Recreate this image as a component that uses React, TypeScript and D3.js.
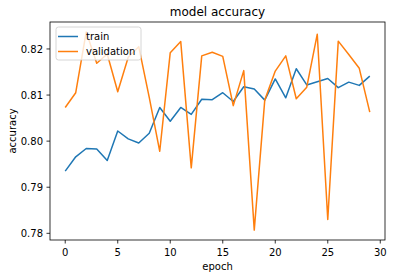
import React from "react";
import * as d3 from "d3";

const epochs = d3.range(30);
const trainAcc = [
  0.7935, 0.7966, 0.7984, 0.7983, 0.7958, 0.8022, 0.8005, 0.7996, 0.8017, 0.8073,
  0.8043, 0.8073, 0.8058, 0.8091, 0.809, 0.8105, 0.8086, 0.8118, 0.8113, 0.8089,
  0.8135, 0.8094, 0.8157, 0.8122, 0.8129, 0.8136, 0.8116, 0.8128, 0.8121, 0.8141,
];
const valAcc = [
  0.8073, 0.8105, 0.8237, 0.8169, 0.8189, 0.8107, 0.8182, 0.8205, 0.8095, 0.7978,
  0.8192, 0.8216, 0.7942, 0.8185, 0.8193, 0.8184, 0.8077, 0.8153, 0.7807, 0.8089,
  0.8152, 0.8185, 0.8092, 0.8117, 0.8232, 0.783, 0.8217, 0.8188, 0.8158, 0.8063,
];
const xTicks = [0, 5, 10, 15, 20, 25, 30];
const yTicks = [0.78, 0.79, 0.8, 0.81, 0.82];
const seriesNames = ["train", "validation"];
const colors = ["#1f77b4", "#ff7f0e"];

const W = 393;
const H = 278;
const L = 50, R = 385, T = 22, B = 240;

export default function App() {
  const n = epochs.length - 1;
  const xm = n * 0.05;
  const x = d3.scaleLinear().domain([-xm, n + xm]).range([L, R]);
  const all = trainAcc.concat(valAcc);
  const lo = d3.min(all)!, hi = d3.max(all)!;
  const ym = (hi - lo) * 0.05;
  const y = d3.scaleLinear().domain([lo - ym, hi + ym]).range([B, T]);
  const line = d3.line<number>().x((_, i) => x(epochs[i])).y((d) => y(d));
  const font = "DejaVu Sans, sans-serif";
  return (
    <svg width={W} height={H} style={{ position: "absolute", left: 0, top: 0 }} fontFamily={font}>
      <rect x={0} y={0} width={W} height={H} fill="#fff" />
      <path d={line(trainAcc)!} fill="none" stroke={colors[0]} strokeWidth={1.5} strokeLinejoin="round" />
      <path d={line(valAcc)!} fill="none" stroke={colors[1]} strokeWidth={1.5} strokeLinejoin="round" />
      <rect x={L} y={T} width={R - L} height={B - T} fill="none" stroke="#000" strokeWidth={0.8} />
      {xTicks.map((t) => (
        <g key={t}>
          <line x1={x(t)} x2={x(t)} y1={B} y2={B + 3.5} stroke="#000" strokeWidth={0.8} />
          <text x={x(t)} y={B + 15.5} fontSize={10} textAnchor="middle" fill="#000">{t}</text>
        </g>
      ))}
      {yTicks.map((t) => (
        <g key={t}>
          <line x1={L - 3.5} x2={L} y1={y(t)} y2={y(t)} stroke="#000" strokeWidth={0.8} />
          <text x={L - 7} y={y(t) + 3.6} fontSize={10} textAnchor="end" fill="#000">{t.toFixed(2)}</text>
        </g>
      ))}
      <text x={(L + R) / 2} y={T - 6} fontSize={12} textAnchor="middle" fill="#000">model accuracy</text>
      <text x={(L + R) / 2} y={270} fontSize={10} textAnchor="middle" fill="#000">epoch</text>
      <text transform={`translate(16,${(T + B) / 2}) rotate(-90)`} fontSize={10} textAnchor="middle" fill="#000">accuracy</text>
      <g>
        <rect x={56} y={27} width={85} height={33} rx={2.5} fill="#fff" fillOpacity={0.8} stroke="#ccc" strokeWidth={0.8} />
        {seriesNames.map((s, i) => (
          <g key={s}>
            <line x1={58} x2={78} y1={36.5 + i * 15} y2={36.5 + i * 15} stroke={colors[i]} strokeWidth={1.5} />
            <text x={86} y={40 + i * 15} fontSize={10} fill="#000">{s}</text>
          </g>
        ))}
      </g>
    </svg>
  );
}
